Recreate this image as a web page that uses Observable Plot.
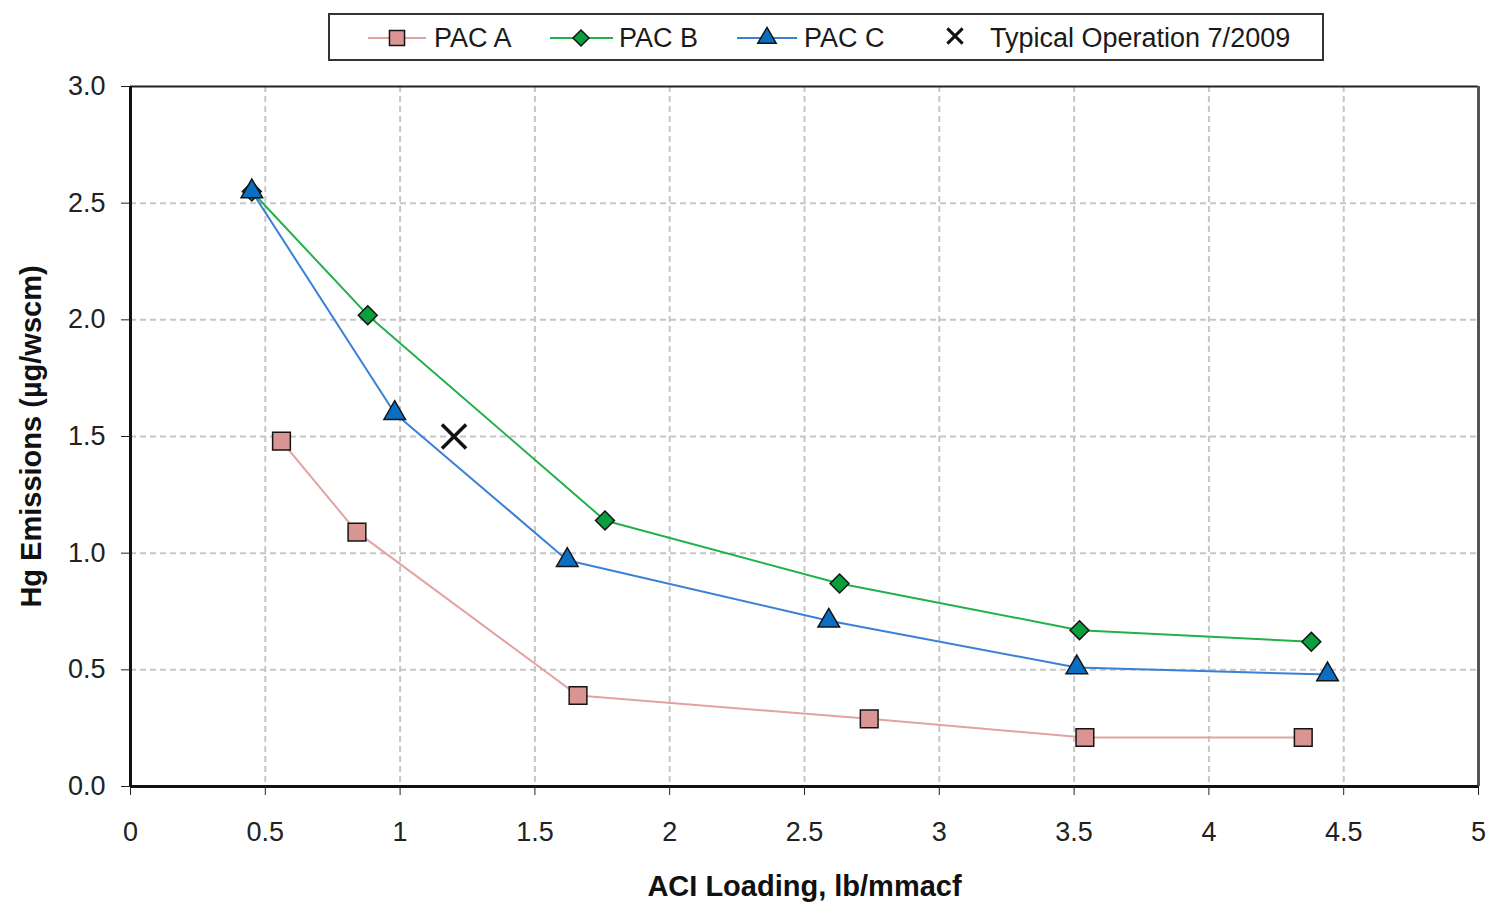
<!DOCTYPE html>
<html>
<head>
<meta charset="utf-8">
<script src="https://cdn.jsdelivr.net/npm/d3@7"></script>
<script src="https://cdn.jsdelivr.net/npm/@observablehq/plot@0.6"></script>
<style>
  body { margin: 0; background: #fff; font-family: "Liberation Sans", Arial, sans-serif; }
  #legend { display: block; }
  #chart svg { display: block; }
</style>
</head>
<body>
<svg id="legend" width="1490" height="70" font-family="Liberation Sans, Arial, sans-serif" font-size="27" fill="#1a1a1a"></svg>
<div id="chart"></div>
<script>
// ACI loading (lb/mmacf) vs. Hg emissions (µg/wscm) for three activated carbons
const seriesNames = ["PAC A", "PAC B", "PAC C"];
const pacA_x = [0.56, 0.84, 1.66, 2.74, 3.54, 4.35];
const pacA_y = [1.48, 1.09, 0.39, 0.29, 0.21, 0.21];
const pacB_x = [0.45, 0.88, 1.76, 2.63, 3.52, 4.38];
const pacB_y = [2.55, 2.02, 1.14, 0.87, 0.67, 0.62];
const pacC_x = [0.45, 0.98, 1.62, 2.59, 3.51, 4.44];
const pacC_y = [2.55, 1.60, 0.97, 0.71, 0.51, 0.48];
const typicalName = "Typical Operation 7/2009";
const typical_x = [1.20];
const typical_y = [1.50];
const xTicks = [0, 0.5, 1, 1.5, 2, 2.5, 3, 3.5, 4, 4.5, 5];
const yTicks = [0, 0.5, 1.0, 1.5, 2.0, 2.5, 3.0];
const xTitle = "ACI Loading, lb/mmacf";
const yTitle = "Hg Emissions (µg/wscm)";

const styles = {
  "PAC A": {line: "#e3a2a1", fill: "#d99594", symbol: "square", r: 10},
  "PAC B": {line: "#22b04a", fill: "#0a9e3c", symbol: "diamond2", r: 8.5},
  "PAC C": {line: "#3a80d4", fill: "#0a6fc2", symbol: "triangle", r: 8}
};

const toRows = (name, xs, ys) => xs.map((x, i) => ({name, x, y: ys[i]}));
const pacA = toRows("PAC A", pacA_x, pacA_y);
const pacB = toRows("PAC B", pacB_x, pacB_y);
const pacC = toRows("PAC C", pacC_x, pacC_y);
const typical = toRows(typicalName, typical_x, typical_y);
const allSeries = [pacA, pacB, pacC];

const gridStyle = {stroke: "#c6c6c6", strokeOpacity: 1, strokeWidth: 2, strokeDasharray: "6,4"};

const chart = Plot.plot({
  width: 1490,
  height: 833,
  marginTop: 16,
  marginLeft: 130,
  marginRight: 12,
  marginBottom: 117,
  style: {fontFamily: "Liberation Sans, Arial, sans-serif", fontSize: "27px", color: "#222", background: "#fff"},
  x: {domain: [0, 5]},
  y: {domain: [0, 3]},
  marks: [
    Plot.gridX(xTicks.filter(d => d > 0 && d < 5), gridStyle),
    Plot.gridY(yTicks.filter(d => d > 0 && d < 3), gridStyle),
    Plot.ruleY([3], {stroke: "#222", strokeWidth: 2}),
    Plot.ruleX([5], {stroke: "#555", strokeWidth: 3}),
    Plot.ruleX([0], {stroke: "#111", strokeWidth: 3}),
    Plot.ruleY([0], {stroke: "#111", strokeWidth: 3}),
    Plot.axisX({ticks: xTicks, tickFormat: d => String(d), tickSize: 9, tickPadding: 26, label: null, fontSize: 27}),
    Plot.axisY({ticks: yTicks, tickFormat: d3.format(".1f"), tickSize: 9, tickPadding: 16, label: null, fontSize: 27}),
    ...allSeries.map(s => Plot.line(s, {x: "x", y: "y", stroke: styles[s[0].name].line, strokeWidth: 2})),
    ...allSeries.map(s => Plot.dot(s, {
      x: "x", y: "y",
      symbol: styles[s[0].name].symbol,
      r: styles[s[0].name].r,
      fill: styles[s[0].name].fill,
      stroke: "#151515",
      strokeWidth: 1.5
    })),
    Plot.dot(typical, {x: "x", y: "y", symbol: "times", r: 11, stroke: "#111", strokeWidth: 3.5}),
    Plot.text([xTitle], {frameAnchor: "bottom", lineAnchor: "middle", dy: 100, fontWeight: "bold", fontSize: 29, fill: "#111"}),
    Plot.text([yTitle], {frameAnchor: "left", textAnchor: "middle", lineAnchor: "middle", rotate: -90, dx: -99, fontWeight: "bold", fontSize: 29, fill: "#111"})
  ]
});
document.getElementById("chart").appendChild(chart);

// Legend: line-and-marker swatches in a framed box above the plot
const legend = d3.select("#legend");
legend.append("rect")
  .attr("x", 329).attr("y", 14).attr("width", 994).attr("height", 46)
  .attr("fill", "#fff").attr("stroke", "#333").attr("stroke-width", 2);

const symbolPath = (name, r) => {
  const types = {square: d3.symbolSquare, diamond2: d3.symbolDiamond2, triangle: d3.symbolTriangle, times: d3.symbolTimes};
  return d3.symbol(types[name], Math.PI * r * r)();
};

const legendItems = [
  {name: seriesNames[0], x0: 368, x1: 426, cx: 397, tx: 434},
  {name: seriesNames[1], x0: 550, x1: 613, cx: 581, tx: 619},
  {name: seriesNames[2], x0: 737, x1: 797, cx: 767, tx: 804}
];
const cy = 38;
legendItems.forEach(it => {
  const st = styles[it.name];
  legend.append("line").attr("x1", it.x0).attr("x2", it.x1).attr("y1", cy).attr("y2", cy)
    .attr("stroke", st.line).attr("stroke-width", 2);
  legend.append("path").attr("d", symbolPath(st.symbol, st.r * 0.85))
    .attr("transform", `translate(${it.cx},${cy})`)
    .attr("fill", st.fill).attr("stroke", "#151515").attr("stroke-width", 1.5);
  legend.append("text").attr("x", it.tx).attr("y", cy).attr("dy", "0.35em").text(it.name);
});
legend.append("path").attr("d", symbolPath("times", 7))
  .attr("transform", `translate(955,${cy - 2})`)
  .attr("fill", "none").attr("stroke", "#111").attr("stroke-width", 3);
legend.append("text").attr("x", 990).attr("y", cy).attr("dy", "0.35em").text(typicalName);
</script>
</body>
</html>
